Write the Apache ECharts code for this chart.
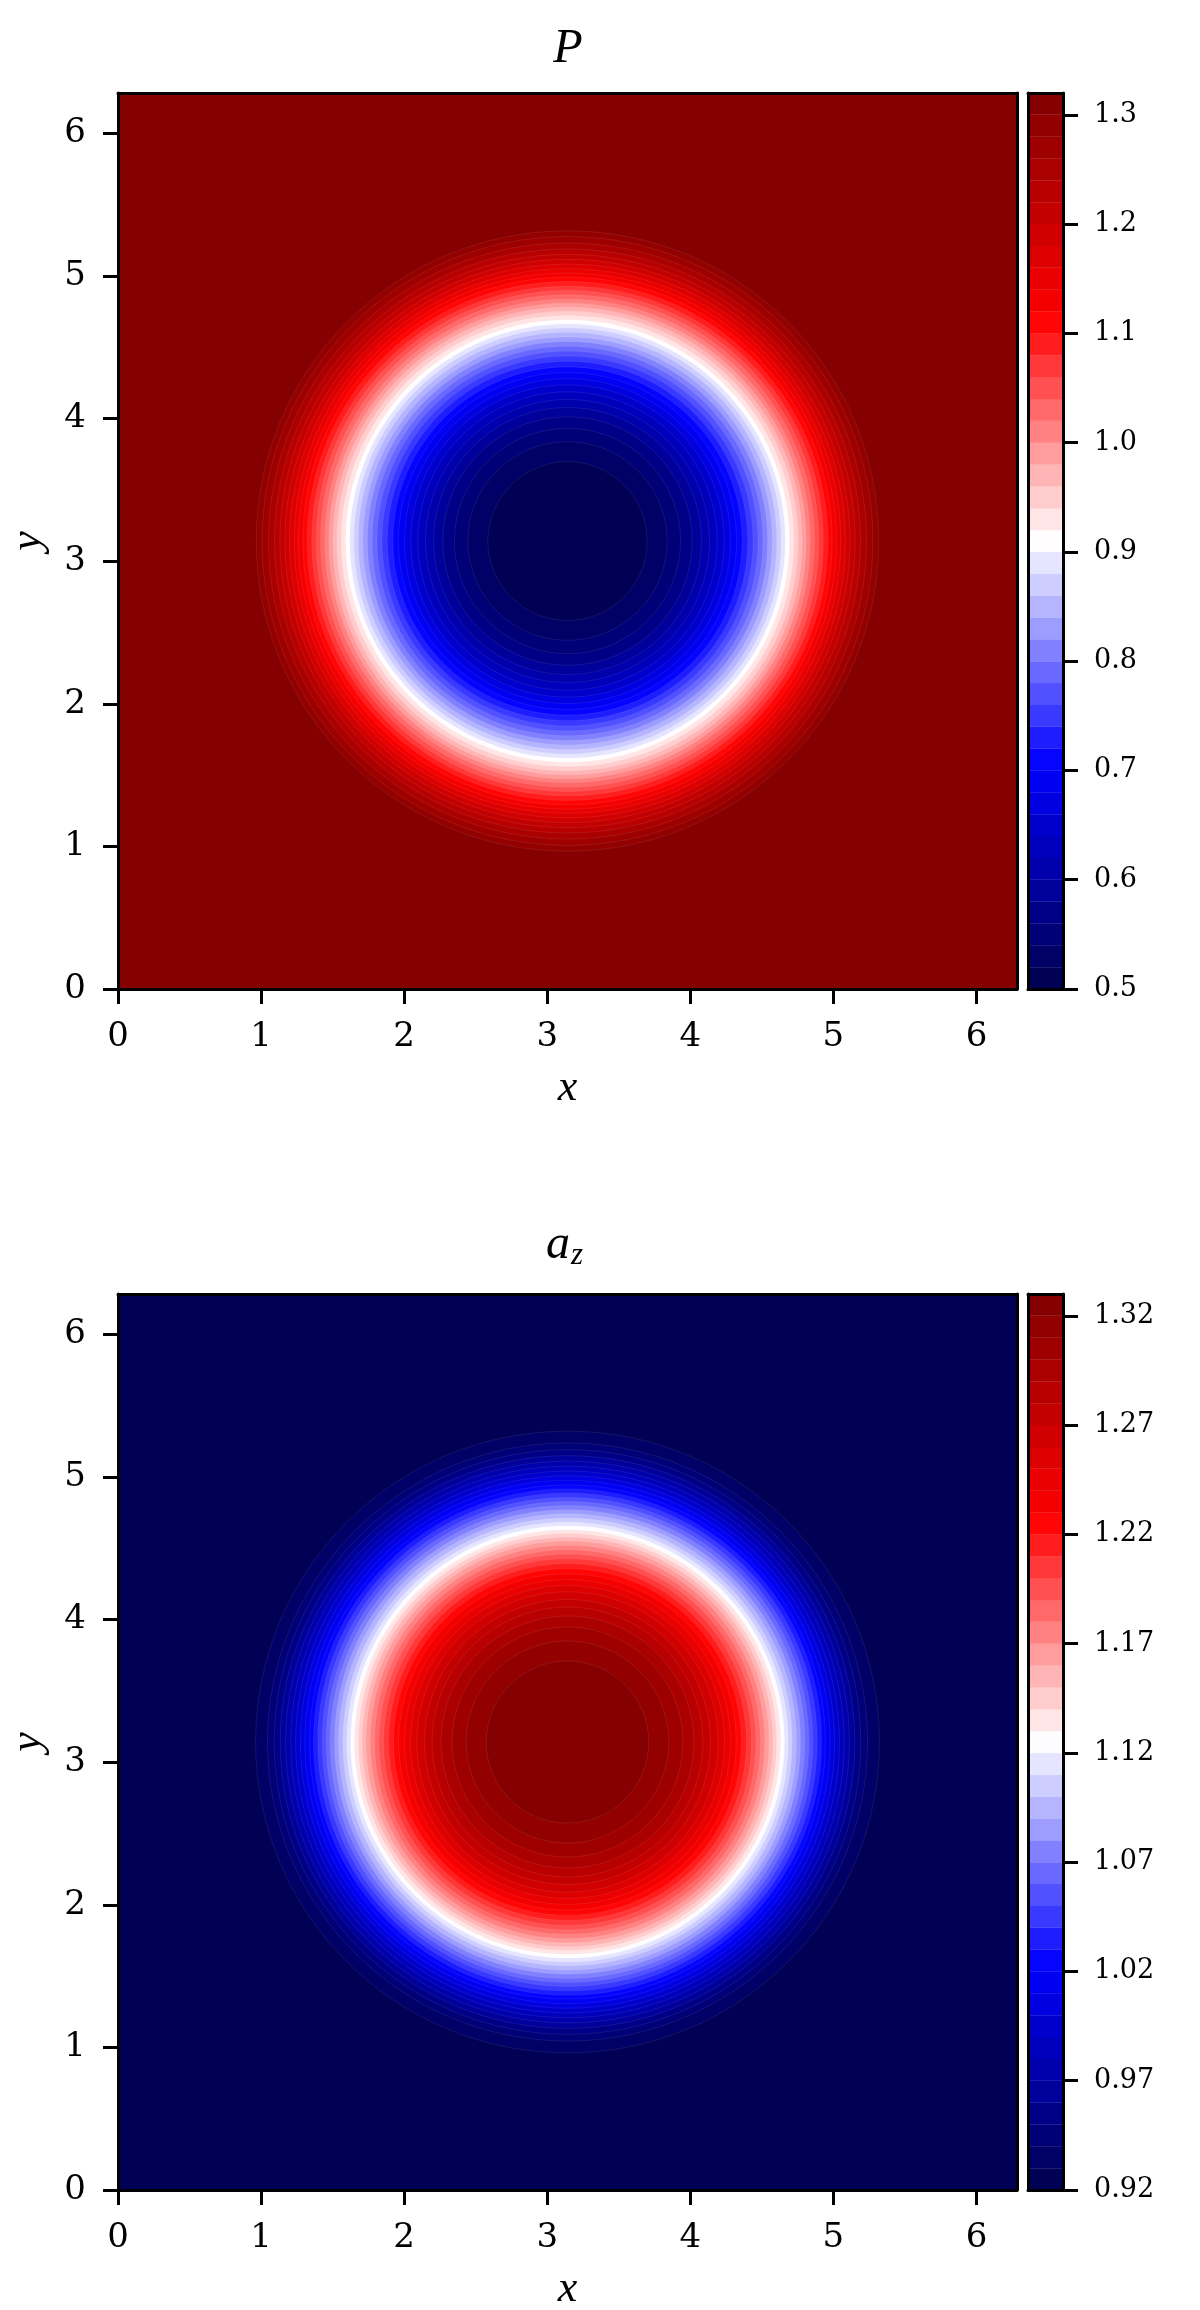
<!DOCTYPE html>
<html><head><meta charset="utf-8">
<script src="https://cdn.jsdelivr.net/npm/echarts@6/dist/echarts.min.js"></script>
<style>html,body{margin:0;padding:0;background:#fff}#c{width:1200px;height:2310px}</style>
</head><body><div id="c"></div>
<script>
// ---------------- data ----------------
const center = [3.14159, 3.14159];          // vortex centre (x, y)
const domain = [0, 6.28319];                // x and y extent
const xTicks = [0, 1, 2, 3, 4, 5, 6];
const yTicks = [0, 1, 2, 3, 4, 5, 6];

// P : contour levels (colour bar) and radius of each level boundary 0.52 ... 1.30
const pLevels = [0.50,0.52,0.54,0.56,0.58,0.60,0.62,0.64,0.66,0.68,0.70,0.72,0.74,0.76,0.78,0.80,0.82,0.84,0.86,0.88,0.90,
                 0.92,0.94,0.96,0.98,1.00,1.02,1.04,1.06,1.08,1.10,1.12,1.14,1.16,1.18,1.20,1.22,1.24,1.26,1.28,1.30,1.32];
const pRadii = [0.557,0.696,0.790,0.871,0.936,0.992,1.046,1.095,1.139,1.181,1.221,1.260,1.297,1.332,1.366,1.399,1.431,1.463,1.493,1.522,
                1.551,1.582,1.612,1.640,1.668,1.696,1.726,1.756,1.787,1.819,1.850,1.880,1.910,1.942,1.975,2.010,2.048,2.090,2.135,2.175];
const pTicks = [0.5,0.6,0.7,0.8,0.9,1.0,1.1,1.2,1.3];

// a_z : contour levels and radius of each level boundary 0.93 ... 1.32
const azLevels = [0.92,0.93,0.94,0.95,0.96,0.97,0.98,0.99,1.00,1.01,1.02,1.03,1.04,1.05,1.06,1.07,1.08,1.09,1.10,1.11,1.12,
                  1.13,1.14,1.15,1.16,1.17,1.18,1.19,1.20,1.21,1.22,1.23,1.24,1.25,1.26,1.27,1.28,1.29,1.30,1.31,1.32,1.33];
const azRadii = [2.180,2.097,2.050,2.008,1.970,1.934,1.900,1.867,1.835,1.803,1.775,1.745,1.714,1.686,1.658,1.628,1.600,1.570,1.543,1.516,
                 1.489,1.462,1.436,1.409,1.379,1.349,1.318,1.286,1.251,1.216,1.179,1.139,1.097,1.053,0.999,0.946,0.883,0.806,0.708,0.568];
const azTicks = [0.92,0.97,1.02,1.07,1.12,1.17,1.22,1.27,1.32];

// ---------------- helpers ----------------
const FONT = 'DejaVu Serif';
const IFONT = 'Liberation Serif';
const anchors = [[0,0,0.3],[0,0,1],[1,1,1],[1,0,0],[0.5,0,0]]; // matplotlib "seismic"
function seismic(t){
  let idx = Math.floor(t*256); if (idx > 255) idx = 255; if (idx < 0) idx = 0;
  const x = idx/255*4; const i = Math.min(3, Math.floor(x)); const f = x - i;
  const a = anchors[i], b = anchors[i+1];
  const c = [0,1,2].map(k => Math.round((a[k] + (b[k]-a[k])*f)*255));
  return 'rgb(' + c.join(',') + ')';
}
function bandColors(levels){
  const lo = levels[0], hi = levels[levels.length-1];
  const out = [];
  for (let b = 0; b < levels.length-1; b++) out.push(seismic(((levels[b]+levels[b+1])/2 - lo)/(hi-lo)));
  return out;
}
const pColors = bandColors(pLevels);
const azColors = bandColors(azLevels);

// field items: [cx, cy, radius, band, isBackground]
function fieldData(levels, radii, increasing){
  const nb = levels.length - 1;
  const items = [[center[0], center[1], 0, increasing ? nb-1 : 0, 1]];
  const order = radii.map((r,j)=>j).sort((a,b)=>radii[b]-radii[a]);
  order.forEach(j => { const m = j+1; items.push([center[0], center[1], radii[j], increasing ? m-1 : m, 0]); });
  return items;
}
function barData(levels){
  const d = [];
  for (let b = 0; b < levels.length-1; b++) d.push([0, levels[b], levels[b+1], b]);
  return d;
}
function fieldRender(colors){
  return function(params, api){
    const cs = params.coordSys;
    const color = colors[api.value(3)];
    if (api.value(4)) return {type:'rect', shape:{x:cs.x, y:cs.y, width:cs.width, height:cs.height}, style:{fill:color}};
    const c = api.coord([api.value(0), api.value(1)]);
    const rx = api.size([api.value(2), 0])[0];
    const ry = api.size([0, api.value(2)])[1];
    return {type:'ellipse', shape:{cx:c[0], cy:c[1], rx:rx, ry:ry},
            style:{fill:color, stroke:'rgba(255,255,255,0.10)', lineWidth:0.8}};
  };
}
function barRender(colors){
  return function(params, api){
    const p1 = api.coord([0, api.value(2)]);
    const p2 = api.coord([1, api.value(1)]);
    return {type:'rect', shape:{x:p1[0], y:p1[1], width:p2[0]-p1[0], height:p2[1]-p1[1]},
            style:{fill:colors[api.value(3)], stroke:colors[api.value(3)], lineWidth:0.3}};
  };
}

const LINE = {show:true, onZero:false, lineStyle:{color:'#000', width:3}};
function plainAxis(gridIndex, position, min, max){
  return {type:'value', gridIndex, position, min, max, z:10,
          axisLine:LINE, axisTick:{show:false}, axisLabel:{show:false}, splitLine:{show:false}};
}
function mainX(gridIndex){
  return {type:'value', gridIndex, position:'bottom', min:domain[0], max:domain[1], z:10,
          axisLine:LINE, splitLine:{show:false},
          axisTick:{show:true, length:15, lineStyle:{color:'#000', width:3}, customValues:xTicks},
          axisLabel:{show:true, customValues:xTicks, margin:31, fontFamily:FONT, fontSize:34, color:'#000',
                     formatter:v=>String(Math.round(v))},
          name:'x', nameLocation:'middle', nameGap:77,
          nameTextStyle:{fontFamily:IFONT, fontStyle:'italic', fontSize:44, color:'#000'}};
}
function mainY(gridIndex){
  return {type:'value', gridIndex, position:'left', min:domain[0], max:domain[1], z:10,
          axisLine:LINE, splitLine:{show:false},
          axisTick:{show:true, length:15, lineStyle:{color:'#000', width:3}, customValues:yTicks},
          axisLabel:{show:true, customValues:yTicks, margin:32, fontFamily:FONT, fontSize:34, color:'#000',
                     formatter:v=>String(Math.round(v))},
          name:'y', nameLocation:'middle', nameGap:68,
          nameTextStyle:{fontFamily:IFONT, fontStyle:'italic', fontSize:44, color:'#000'}};
}
function cbarY(gridIndex, levels, ticks, digits){
  return {type:'value', gridIndex, position:'right', min:levels[0], max:levels[levels.length-1], z:10,
          axisLine:LINE, splitLine:{show:false},
          axisTick:{show:true, length:15, lineStyle:{color:'#000', width:3}, customValues:ticks},
          axisLabel:{show:true, customValues:ticks, margin:31, fontFamily:FONT, fontSize:27, color:'#000',
                     formatter:v=>v.toFixed(digits)}};
}

const chart = echarts.init(document.getElementById('c'), null, {renderer:'canvas', width:1200, height:2310});
chart.setOption({
  animation:false,
  backgroundColor:'#fff',
  grid:[
    {left:118, top:93, width:899, height:896, containLabel:false, outerBoundsMode:'none'},
    {left:1028, top:93, width:35, height:896, containLabel:false, outerBoundsMode:'none'},
    {left:118, top:1294, width:899, height:896, containLabel:false, outerBoundsMode:'none'},
    {left:1028, top:1294, width:35, height:896, containLabel:false, outerBoundsMode:'none'}
  ],
  xAxis:[
    mainX(0), plainAxis(0,'top',domain[0],domain[1]),
    plainAxis(1,'bottom',0,1), plainAxis(1,'top',0,1),
    mainX(2), plainAxis(2,'top',domain[0],domain[1]),
    plainAxis(3,'bottom',0,1), plainAxis(3,'top',0,1)
  ],
  yAxis:[
    mainY(0), plainAxis(0,'right',domain[0],domain[1]),
    plainAxis(1,'left',pLevels[0],pLevels[pLevels.length-1]), cbarY(1,pLevels,pTicks,1),
    mainY(2), plainAxis(2,'right',domain[0],domain[1]),
    plainAxis(3,'left',azLevels[0],azLevels[azLevels.length-1]), cbarY(3,azLevels,azTicks,2)
  ],
  graphic:[
    {type:'text', x:568, y:49, z:20, style:{text:'P', font:'italic 48px "' + IFONT + '"', fill:'#000', align:'center', verticalAlign:'middle'}},
    {type:'text', x:558, y:1245, z:20, style:{text:'a', font:'italic 48px "' + IFONT + '"', fill:'#000', align:'center', verticalAlign:'middle'}},
    {type:'text', x:571, y:1256, z:20, style:{text:'z', font:'italic 31px "' + IFONT + '"', fill:'#000', align:'left', verticalAlign:'middle'}}
  ],
  series:[
    {type:'custom', xAxisIndex:0, yAxisIndex:0, z:2, clip:true, silent:true, renderItem:fieldRender(pColors), data:fieldData(pLevels,pRadii,true)},
    {type:'custom', xAxisIndex:2, yAxisIndex:3, z:2, clip:true, silent:true, renderItem:barRender(pColors), data:barData(pLevels)},
    {type:'custom', xAxisIndex:4, yAxisIndex:4, z:2, clip:true, silent:true, renderItem:fieldRender(azColors), data:fieldData(azLevels,azRadii,false)},
    {type:'custom', xAxisIndex:6, yAxisIndex:7, z:2, clip:true, silent:true, renderItem:barRender(azColors), data:barData(azLevels)}
  ]
});
</script>
</body></html>
